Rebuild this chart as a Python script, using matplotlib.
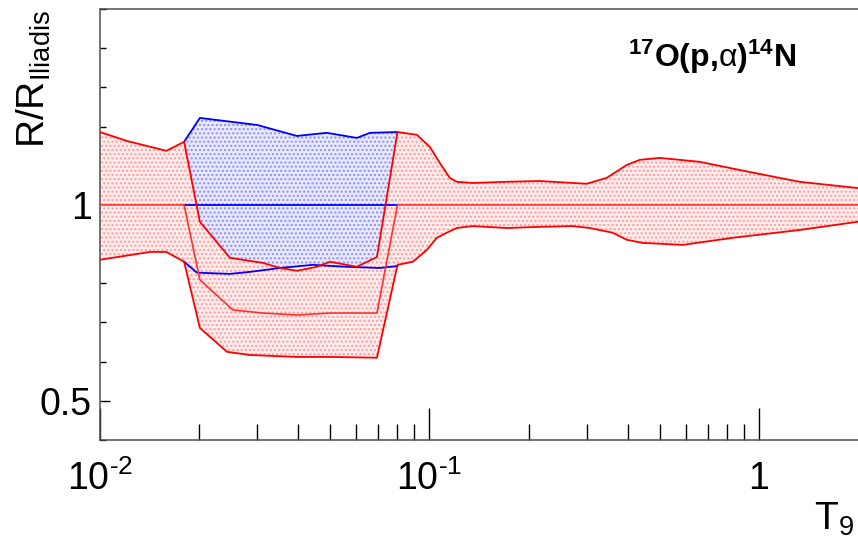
import numpy as np
import matplotlib
matplotlib.use("Agg")
import matplotlib.pyplot as plt
from matplotlib.ticker import FixedLocator, FixedFormatter, MultipleLocator

plt.rcParams['font.family'] = ['Liberation Sans', 'DejaVu Sans']
plt.rcParams['mathtext.fontset'] = 'custom'
plt.rcParams['mathtext.rm'] = 'Liberation Sans'
plt.rcParams['mathtext.it'] = 'Liberation Sans:italic'
plt.rcParams['mathtext.bf'] = 'Liberation Sans:bold'
plt.rcParams['hatch.linewidth'] = 1.0

# red band: upper / central / lower limits of R/R_Iliadis vs T9
red_up_T = [0.01, 0.0121, 0.0159, 0.018, 0.0201, 0.0248, 0.0312, 0.0352, 0.0396, 0.0455,
            0.0499, 0.0602, 0.0693, 0.08, 0.0916, 0.1003, 0.1076, 0.1153, 0.1211, 0.1354,
            0.1717, 0.2163, 0.2724, 0.3004, 0.3453, 0.3972, 0.4349, 0.5, 0.6613, 0.9378,
            1.33, 2.0]
red_up_R = [1.186, 1.163, 1.138, 1.161, 0.957, 0.865, 0.852, 0.839, 0.832, 0.842,
            0.855, 0.842, 0.867, 1.186, 1.179, 1.148, 1.107, 1.069, 1.059, 1.056,
            1.059, 1.061, 1.056, 1.054, 1.069, 1.102, 1.115, 1.120, 1.110, 1.084,
            1.059, 1.043]

red_mid_T = [0.01, 0.018, 0.0201, 0.0253, 0.0312, 0.0396, 0.0499, 0.0693, 0.08, 2.0]
red_mid_R = [1.0, 1.0, 0.809, 0.732, 0.724, 0.719, 0.724, 0.724, 1.0, 1.0]

red_lo_T = [0.01, 0.0142, 0.0159, 0.018, 0.0201, 0.0243, 0.0285, 0.0396, 0.0499, 0.0693,
            0.08, 0.0891, 0.0982, 0.1053, 0.1129, 0.1211, 0.1354, 0.1717, 0.2163, 0.2724,
            0.3067, 0.3601, 0.3972, 0.4441, 0.5872, 0.8326, 1.33, 2.0]
red_lo_R = [0.860, 0.880, 0.880, 0.855, 0.686, 0.625, 0.617, 0.612, 0.612, 0.610,
            0.847, 0.855, 0.885, 0.916, 0.929, 0.941, 0.946, 0.941, 0.944, 0.946,
            0.941, 0.929, 0.911, 0.903, 0.898, 0.916, 0.936, 0.957]

# blue band
blue_up_T = [0.018, 0.0201, 0.030, 0.0396, 0.0488, 0.0602, 0.066, 0.08]
blue_up_R = [1.161, 1.222, 1.204, 1.176, 1.184, 1.171, 1.184, 1.186]
blue_mid_T = [0.018, 0.08]
blue_mid_R = [1.0, 1.0]
blue_lo_T = [0.018, 0.0197, 0.0248, 0.0285, 0.0352, 0.0443, 0.0562, 0.0707, 0.08]
blue_lo_R = [0.855, 0.827, 0.824, 0.829, 0.839, 0.847, 0.842, 0.839, 0.844]

x_major = [0.01, 0.1, 1.0]
x_major_labels = ['$10^{\u20102}$', '$10^{\u20101}$', '1']
y_major = [0.5, 1.0]
y_major_labels = ['0.5', '1']

RED = '#ff0000'
BLUE = '#0000ff'

fig = plt.figure(figsize=(8.58, 5.40), dpi=100)
ax = fig.add_axes([100 / 858, 100 / 540, 758 / 858, 431 / 540])

# filled bands (dotted pattern)
ax.fill(np.concatenate([blue_up_T, blue_lo_T[::-1]]),
        np.concatenate([blue_up_R, blue_lo_R[::-1]]),
        facecolor=(0.91, 0.91, 1.0), edgecolor=(0.55, 0.55, 1.0),
        hatch='....', linewidth=0, zorder=1)
ax.fill(np.concatenate([red_up_T, red_lo_T[::-1]]),
        np.concatenate([red_up_R, red_lo_R[::-1]]),
        facecolor=(1.0, 0.93, 0.93), edgecolor=(1.0, 0.6, 0.6),
        hatch='....', linewidth=0, zorder=2)

# outlines
for T, R in [(blue_up_T, blue_up_R), (blue_mid_T, blue_mid_R), (blue_lo_T, blue_lo_R)]:
    ax.plot(T, R, color=BLUE, lw=1.3, zorder=3)
for T, R in [(red_up_T, red_up_R), (red_lo_T, red_lo_R)]:
    ax.plot(T, R, color=RED, lw=1.3, zorder=4)
ax.plot(red_mid_T, red_mid_R, color='#ff3030', lw=1.2, zorder=4)

ax.set_xscale('log')
ax.set_xlim(0.01, 2.0)
ax.set_ylim(0.4, 1.5)

ax.xaxis.set_major_locator(FixedLocator(x_major))
ax.xaxis.set_major_formatter(FixedFormatter(x_major_labels))
minor_x = [m * d for d in (0.01, 0.1) for m in range(2, 10)]
ax.xaxis.set_minor_locator(FixedLocator(minor_x))
ax.xaxis.set_minor_formatter(FixedFormatter([''] * len(minor_x)))

ax.yaxis.set_major_locator(FixedLocator(y_major))
ax.yaxis.set_major_formatter(FixedFormatter(y_major_labels))
ax.yaxis.set_minor_locator(MultipleLocator(0.1))

ax.tick_params(axis='x', which='major', direction='in', length=23, width=1.0,
               labelsize=27, pad=15, top=False)
ax.tick_params(axis='x', which='minor', direction='in', length=11.5, width=1.0, top=False)
ax.tick_params(axis='y', which='major', direction='in', length=7, width=1.0,
               labelsize=27, pad=6, right=False)
ax.tick_params(axis='y', which='minor', direction='in', length=4, width=1.0, right=False)

for s in ['left', 'bottom', 'top']:
    ax.spines[s].set_color('0.3')
    ax.spines[s].set_linewidth(1.1)
ax.spines['right'].set_visible(False)

fig.text(34 / 858, 1 - 10 / 540, r'R/R$_{\mathrm{Iliadis}}$', rotation=90,
         ha='center', va='top', fontsize=28)
fig.text(854 / 858, 1 - 530 / 540, r'T$_{9}$', ha='right', va='baseline', fontsize=28)
fig.text(628 / 858, 1 - 67 / 540,
         r'$^{\mathbf{17}}\mathbf{O(p{,}}\mathrm{\alpha}\mathbf{)}^{\mathbf{14}}\mathbf{N}$',
         ha='left', va='baseline', fontsize=23)

fig.savefig('out.png', dpi=100)
